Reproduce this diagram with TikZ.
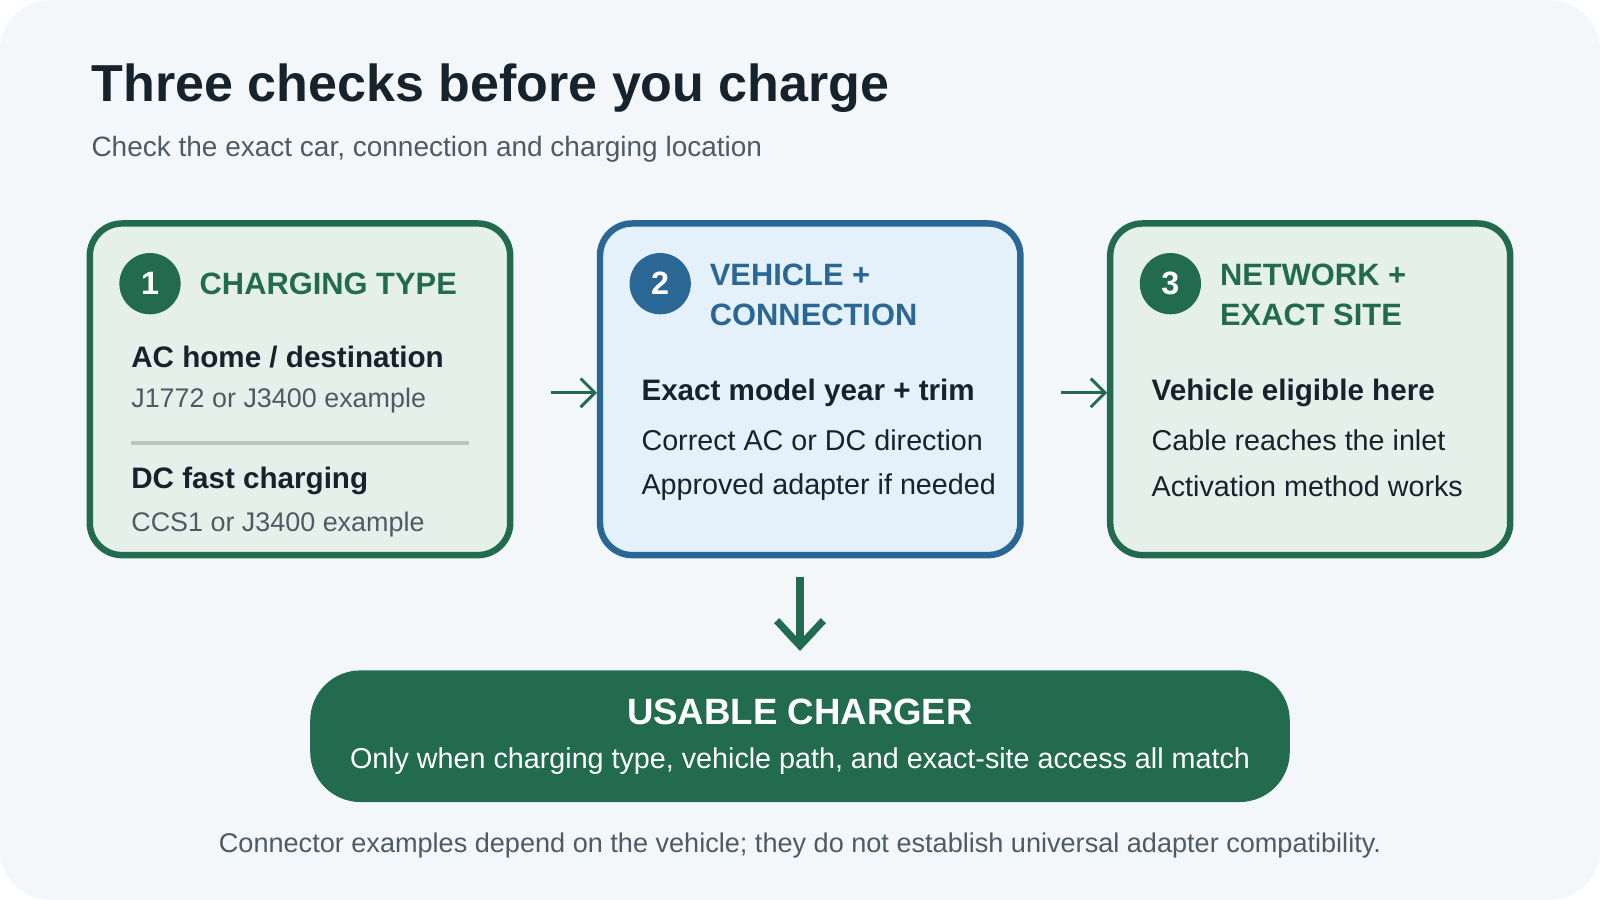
\documentclass[tikz,border=0pt]{standalone}
\usepackage{fontspec}
\setmainfont{Liberation Sans}
\usetikzlibrary{positioning,arrows.meta}
\definecolor{bgc}{HTML}{F3F7F9}
\definecolor{dgreen}{HTML}{236B4E}
\definecolor{lgreen}{HTML}{E5F0EA}
\definecolor{dblue}{HTML}{2A6794}
\definecolor{lblue}{HTML}{E4F1FB}
\definecolor{ink}{HTML}{16222C}
\definecolor{gtext}{HTML}{4E5A64}
\definecolor{rule}{HTML}{B5C7BE}
\tikzset{
  card/.style={draw=#1, line width=1.8pt, rounded corners=9pt},
  badge/.style={circle, fill=#1, minimum size=0.6cm, inner sep=0, text=white, font=\fontsize{9}{10}\selectfont\bfseries},
  head/.style={anchor=west, inner sep=0, align=left, text=#1, font=\fontsize{8.6}{11}\selectfont\bfseries},
  item/.style={anchor=west, inner sep=0, text=ink, font=\fontsize{8.25}{10}\selectfont\bfseries},
  note/.style={anchor=west, inner sep=0, text=gtext, font=\fontsize{7.5}{9}\selectfont},
  line/.style={anchor=west, inner sep=0, text=ink, font=\fontsize{8}{10}\selectfont},
  flow/.style={-{Straight Barb[length=4pt]}, line width=0.8pt, draw=dgreen}
}
\begin{document}
\begin{tikzpicture}[x=0.01cm, y=-0.01cm]
\fill[bgc, rounded corners=14pt] (0,0) rectangle (1568,882);
\useasboundingbox (0,0) rectangle (1568,882);
\node[anchor=west, inner sep=0, text=ink, font=\fontsize{14.5}{18}\selectfont\bfseries] (title) at (89,86) {Three checks before you charge};
\node[anchor=west, inner sep=0, text=gtext, font=\fontsize{7.8}{9}\selectfont] (sub) at (89,146) {Check the exact car, connection and charging location};
% card 1
\draw[card=dgreen, fill=lgreen] (88,219) rectangle (500,544);
\node[badge=dgreen] (b1) at (147,278) {1};
\node[head=dgreen] (h1) at (195,278) {CHARGING TYPE};
\node[item] (ac) at (128,350) {AC home / destination};
\node[note] (acn) at (128,393) {J1772 or J3400 example};
\draw[rule, line width=1pt] (128,434) -- (460,434);
\node[item] (dc) at (128,471) {DC fast charging};
\node[note] (dcn) at (128,514) {CCS1 or J3400 example};
% card 2
\draw[card=dblue, fill=lblue] (588,219) rectangle (1000,544);
\node[badge=dblue] (b2) at (647,278) {2};
\node[head=dblue] (h2) at (695,289) {VEHICLE +\\CONNECTION};
\node[item] (v1) at (628,385) {Exact model year + trim};
\node[line] (v2) at (628,431) {Correct AC or DC direction};
\node[line] (v3) at (628,477) {Approved adapter if needed};
% card 3
\draw[card=dgreen, fill=lgreen] (1088,219) rectangle (1480,544);
\node[badge=dgreen] (b3) at (1147,278) {3};
\node[head=dgreen] (h3) at (1195,289) {NETWORK +\\EXACT SITE};
\node[item] (n1) at (1128,385) {Vehicle eligible here};
\node[line] (n2) at (1128,431) {Cable reaches the inlet};
\node[line] (n3) at (1128,477) {Activation method works};
% arrows
\coordinate (a1) at (540,385); \coordinate (a2) at (585,385);
\coordinate (a3) at (1040,385); \coordinate (a4) at (1085,385);
\coordinate (d1) at (784,565); \coordinate (d2) at (784,638);
\draw[flow] (a1) -- (a2);
\draw[flow] (a3) -- (a4);
\draw[-{Straight Barb[length=7pt,width=13pt]}, line width=2pt, draw=dgreen] (d1) -- (d2);
% result
\fill[dgreen, rounded corners=14pt] (304,657) rectangle (1264,786);
\node[text=white, font=\fontsize{10.2}{13}\selectfont\bfseries] (res) at (784,698) {USABLE CHARGER};
\node[text=white, font=\fontsize{8}{10}\selectfont] (resn) at (784,746) {Only when charging type, vehicle path, and exact-site access all match};
\node[text=gtext, font=\fontsize{7.55}{9}\selectfont] (foot) at (784,829) {Connector examples depend on the vehicle; they do not establish universal adapter compatibility.};
\end{tikzpicture}
\end{document}
